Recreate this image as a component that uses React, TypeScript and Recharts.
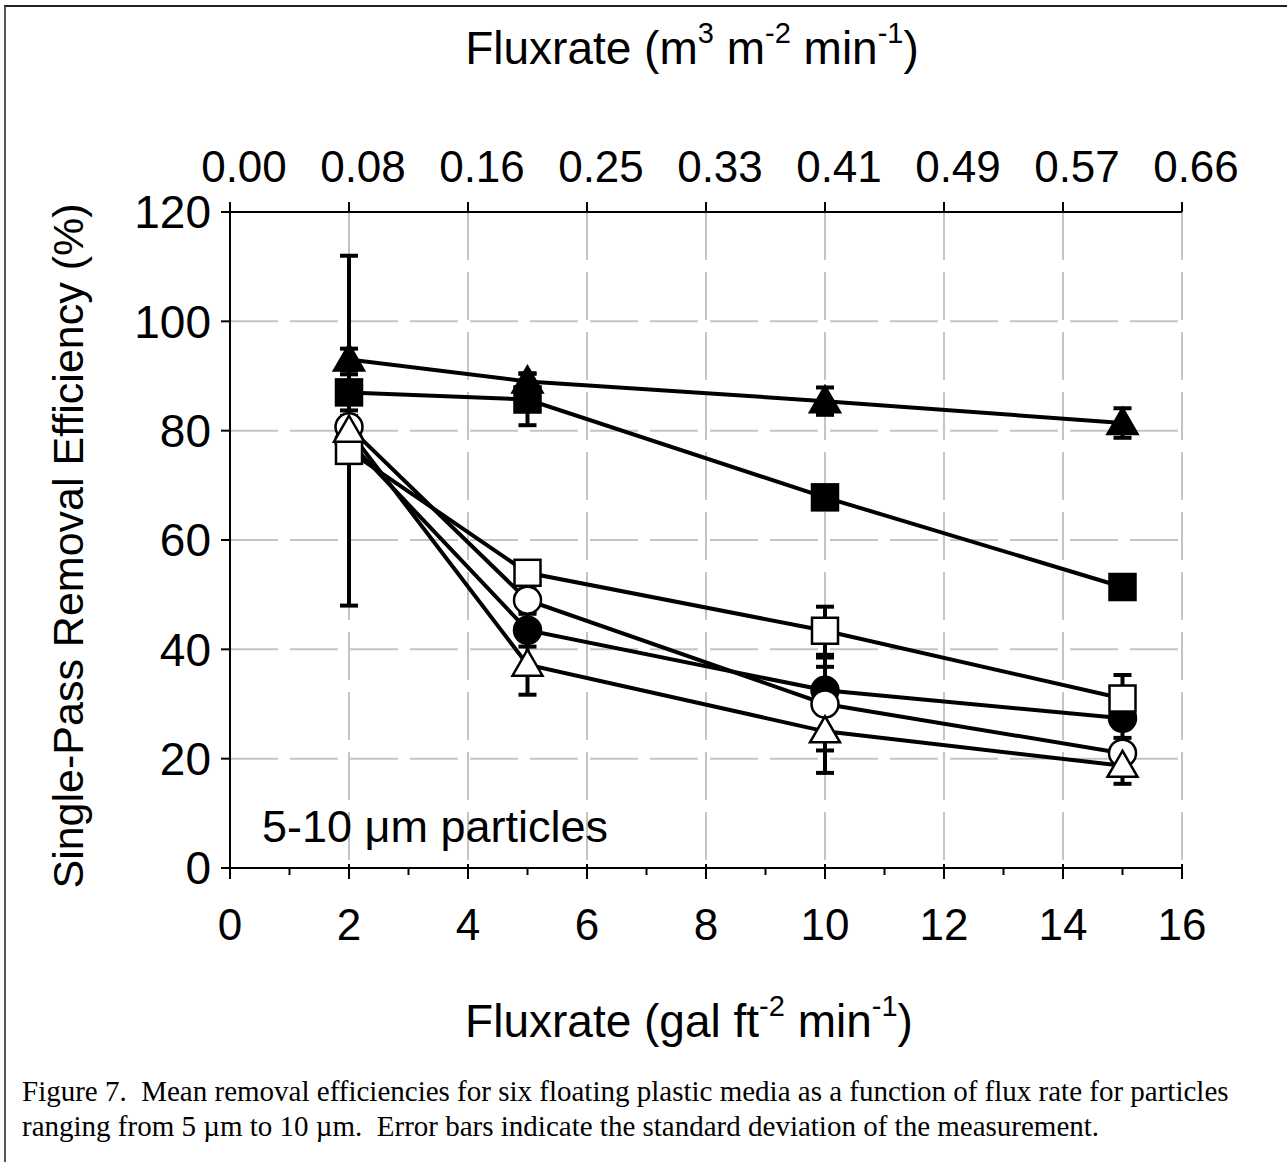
import React from "react";
import { CartesianGrid, ErrorBar, Line, LineChart, XAxis, YAxis } from "recharts";

// flux rate, gal ft-2 min-1
const fluxRate = [2, 5, 10, 15];

// mean removal efficiency (%) and standard deviation, per medium
const filledTriangle = [93, 89, 85.4, 81.4];
const filledTriangleSd = [2, 1.5, 2.5, 2.7];
const filledSquare = [87, 85.7, 67.8, 51.4];
const filledSquareSd = [3.3, 4.7, 1, 1];
const openSquare = [76.3, 54, 43.4, 31];
const openSquareSd = [2, 2, 4.4, 4.3];
const openCircle = [80.7, 49, 30, 21];
const openCircleSd = [2, 2, 8.5, 1];
const filledCircle = [78, 43.5, 32.5, 27.4];
const filledCircleSd = [2, 3, 4.3, 3.6];
const openTriangle = [80, 37.2, 25, 18.7];
const openTriangleSd = [32, 5.5, 7.6, 3.3];

const bottomTicks = [0, 1, 2, 3, 4, 5, 6, 7, 8, 9, 10, 11, 12, 13, 14, 15, 16];
const topTicks = [0, 2, 4, 6, 8, 10, 12, 14, 16];
const topTickLabels = ["0.00", "0.08", "0.16", "0.25", "0.33", "0.41", "0.49", "0.57", "0.66"];
const yTicks = [0, 20, 40, 60, 80, 100, 120];

// drawing order matters: later series sit on top
const series = [
  { key: "filledCircle", values: filledCircle, sd: filledCircleSd, shape: "circle", fill: "#000" },
  { key: "openCircle", values: openCircle, sd: openCircleSd, shape: "circle", fill: "#fff" },
  { key: "openSquare", values: openSquare, sd: openSquareSd, shape: "square", fill: "#fff" },
  { key: "openTriangle", values: openTriangle, sd: openTriangleSd, shape: "triangle", fill: "#fff" },
  { key: "filledSquare", values: filledSquare, sd: filledSquareSd, shape: "square", fill: "#000" },
  { key: "filledTriangle", values: filledTriangle, sd: filledTriangleSd, shape: "triangle", fill: "#000" },
];

const data = fluxRate.map((x, i) => {
  const row: Record<string, number> = { x };
  series.forEach((s) => {
    row[s.key] = s.values[i];
    row[s.key + "Sd"] = s.sd[i];
  });
  return row;
});

const makeDot = (shape: string, fill: string) => (props: any) => {
  const { cx, cy, index } = props;
  const k = `${shape}-${fill}-${index}`;
  if (cx == null || cy == null) return <g key={k} />;
  if (shape === "circle") {
    return <circle key={k} cx={cx} cy={cy} r={13.5} fill={fill} stroke="#000" strokeWidth={2.5} />;
  }
  if (shape === "square") {
    return <rect key={k} x={cx - 13} y={cy - 13} width={26} height={26} fill={fill} stroke="#000" strokeWidth={2.5} />;
  }
  return (
    <polygon
      key={k}
      points={`${cx},${cy - 15} ${cx - 15},${cy + 11} ${cx + 15},${cy + 11}`}
      fill={fill}
      stroke="#000"
      strokeWidth={2.5}
      strokeLinejoin="miter"
    />
  );
};

const BottomTick = (props: any) => {
  const { x, y, payload } = props;
  const major = payload.value % 2 === 0;
  return (
    <g>
      <line x1={x} x2={x} y1={y - (major ? 4 : 0)} y2={y + (major ? 11 : 7)} stroke="#000" strokeWidth={2} />
      {major && (
        <text x={x} y={y + 72} textAnchor="middle" fontSize={44} fill="#000">
          {payload.value}
        </text>
      )}
    </g>
  );
};

const font = "'Liberation Sans', Arial, sans-serif";

export default function App() {
  return (
    <div style={{ position: "relative", width: 1287, height: 1162, background: "#fff", fontFamily: font }}>
      <style>{"body{margin:0}"}</style>
      <div
        style={{
          position: "absolute",
          left: 4,
          top: 5,
          right: 0,
          bottom: 0,
          borderTop: "2px solid #222",
          borderLeft: "2px solid #555",
        }}
      />
      <div style={{ position: "absolute", left: 0, top: 0 }}>
        <LineChart width={1287} height={1070} data={data} margin={{ top: 152, right: 105, bottom: 142, left: 150 }}>
          <CartesianGrid
            xAxisId="top"
            yAxisId="left"
            stroke="#c4c4c4"
            strokeWidth={2}
            strokeDasharray="48 12"
          />
          <XAxis
            xAxisId="bottom"
            dataKey="x"
            type="number"
            domain={[0, 16]}
            ticks={bottomTicks}
            interval={0}
            tick={<BottomTick />}
            tickLine={false}
            tickSize={0}
            tickMargin={0}
            axisLine={{ stroke: "#000", strokeWidth: 2 }}
            height={60}
          />
          <XAxis
            xAxisId="top"
            orientation="top"
            dataKey="x"
            type="number"
            domain={[0, 16]}
            ticks={topTicks}
            interval={0}
            tickFormatter={(v: number) => topTickLabels[v / 2]}
            tick={{ fontSize: 44, fill: "#000", dx: 14 }}
            tickSize={10}
            tickMargin={20}
            tickLine={{ stroke: "#000", strokeWidth: 2 }}
            axisLine={{ stroke: "#000", strokeWidth: 2 }}
            height={60}
          />
          <YAxis
            yAxisId="left"
            type="number"
            domain={[0, 120]}
            ticks={yTicks}
            interval={0}
            tick={{ fontSize: 46, fill: "#000" }}
            tickSize={9}
            tickMargin={10}
            tickLine={{ stroke: "#000", strokeWidth: 2 }}
            axisLine={{ stroke: "#000", strokeWidth: 2 }}
            width={80}
          />
          <YAxis
            yAxisId="right"
            orientation="right"
            type="number"
            domain={[0, 120]}
            tick={false}
            tickLine={false}
            axisLine={{ stroke: "#000", strokeWidth: 2 }}
            width={0}
          />
          {series.map((s) => (
            <Line
              key={s.key}
              xAxisId="bottom"
              yAxisId="left"
              type="linear"
              dataKey={s.key}
              stroke="#000"
              strokeWidth={4}
              dot={makeDot(s.shape, s.fill)}
              activeDot={false}
              isAnimationActive={false}
            >
              <ErrorBar dataKey={s.key + "Sd"} direction="y" width={9} stroke="#000" strokeWidth={4} />
            </Line>
          ))}
        </LineChart>
      </div>
      <svg
        width={1287}
        height={1070}
        style={{ position: "absolute", left: 0, top: 0, pointerEvents: "none", fontFamily: font }}
      >
        <text x={692} y={64} textAnchor="middle" fontSize={46} fill="#000">
          Fluxrate (m
          <tspan dy={-21} fontSize={29}>3</tspan>
          <tspan dy={21}>{" m"}</tspan>
          <tspan dy={-21} fontSize={29}>-2</tspan>
          <tspan dy={21}>{" min"}</tspan>
          <tspan dy={-21} fontSize={29}>-1</tspan>
          <tspan dy={21}>)</tspan>
        </text>
        <text x={689} y={1037} textAnchor="middle" fontSize={46} fill="#000">
          Fluxrate (gal ft
          <tspan dy={-21} fontSize={29}>-2</tspan>
          <tspan dy={21}>{" min"}</tspan>
          <tspan dy={-21} fontSize={29}>-1</tspan>
          <tspan dy={21}>)</tspan>
        </text>
        <text
          x={0}
          y={0}
          transform="translate(68 546) rotate(-90)"
          textAnchor="middle"
          dominantBaseline="central"
          fontSize={43}
          fill="#000"
        >
          Single-Pass Removal Efficiency (%)
        </text>
        <text x={262} y={842} fontSize={45} fill="#000">
          5-10 μm particles
        </text>
      </svg>
      <div
        style={{
          position: "absolute",
          left: 22,
          top: 1074,
          fontFamily: "'Liberation Serif', 'Times New Roman', serif",
          fontSize: 29,
          lineHeight: "35px",
          whiteSpace: "pre",
          color: "#000",
        }}
      >
        {"Figure 7.  Mean removal efficiencies for six floating plastic media as a function of flux rate for particles\nranging from 5 µm to 10 µm.  Error bars indicate the standard deviation of the measurement."}
      </div>
    </div>
  );
}
